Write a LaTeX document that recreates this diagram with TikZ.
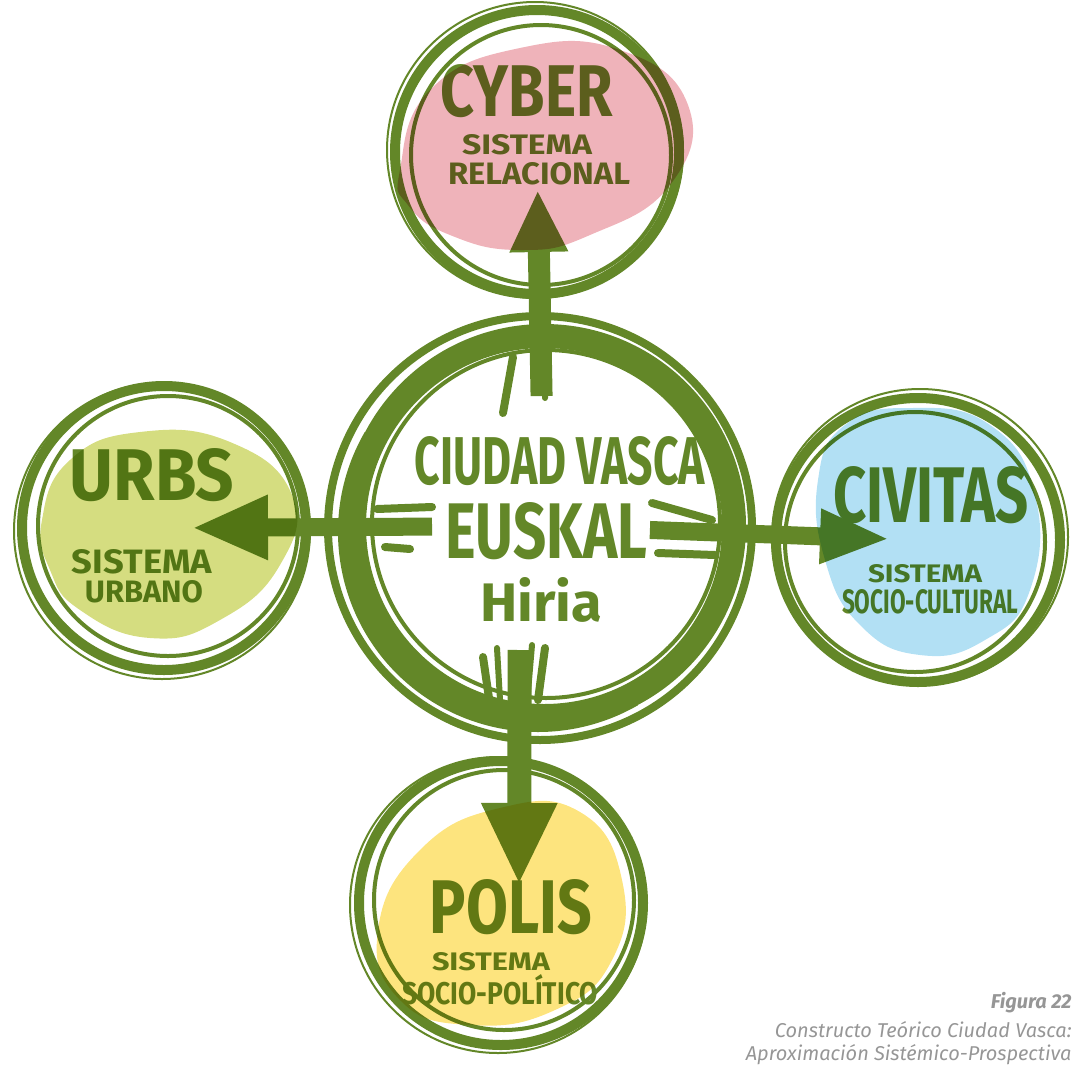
\documentclass[tikz,border=0pt]{standalone}
\usepackage{fontspec}
\setmainfont{Fira Sans}
\usepackage{graphicx}
\usetikzlibrary{arrows.meta}

\definecolor{vgreen}{RGB}{99,135,40}
\definecolor{cyberpink}{RGB}{239,179,186}
\definecolor{urbslime}{RGB}{213,221,128}
\definecolor{civitasblue}{RGB}{178,224,244}
\definecolor{polisyellow}{RGB}{253,228,126}
\definecolor{capgray}{RGB}{150,150,150}

\newcommand{\fitbox}[3]{\resizebox{#1}{#2}{\bfseries #3}}

\tikzset{
  ring/.style={circle, draw=vgreen, line width=5pt, minimum size=#1, inner sep=0pt},
  sketch/.style={draw=vgreen, line width=#1},
  sketchline/.style={draw=vgreen, line width=#1, line cap=round},
  flow/.style 2 args={draw=vgreen, line width=11pt, -{Triangle[length=#1, width=#2]}},
  handtext/.style={text=vgreen, inner sep=0pt},
  captext/.style={text=capgray, inner sep=0pt, anchor=east},
}

\begin{document}
\begin{tikzpicture}[x=0.5pt, y=-0.5pt]
\useasboundingbox (0,0) rectangle (1076,1066);

% rings
\node[ring=190pt, line width=12pt] (ciudad) at (544,526) {};
\node[ring=142pt] (cyber) at (537,152) {};
\node[ring=142pt] (urbs) at (164,528) {};
\node[ring=142pt] (civitas) at (918,540) {};
\node[ring=142pt] (polis) at (501,903) {};

\draw[sketch=4pt] ([shift={(-4,2)}]ciudad.center) circle[radius=106pt];
\draw[sketch=2pt] ([shift={(2,-2)}]ciudad.center) circle[radius=87pt];
\draw[sketch=8pt] ([shift={(-6,6)}]ciudad.center) ++(150:96pt) arc[start angle=150, end angle=300, radius=96pt];
\draw[sketch=2pt] ([shift={(4,3)}]cyber.center) circle[radius=65pt];
\draw[sketch=1pt] ([shift={(-2,-2)}]cyber.center) circle[radius=74pt];
\draw[sketch=2pt] ([shift={(4,-2)}]urbs.center) circle[radius=65pt];
\draw[sketch=1pt] ([shift={(-2,3)}]urbs.center) circle[radius=74pt];
\draw[sketch=2pt] ([shift={(-3,2)}]civitas.center) circle[radius=65pt];
\draw[sketch=1pt] ([shift={(2,-3)}]civitas.center) circle[radius=74pt];
\draw[sketch=2pt] ([shift={(3,-3)}]polis.center) circle[radius=65pt];
\draw[sketch=1pt] ([shift={(-3,2)}]polis.center) circle[radius=74pt];

% arrows
\draw[flow={31pt}{27pt}, shorten <=65pt, shorten >=19pt] (ciudad.center) -- (cyber.center);
\draw[flow={38pt}{30pt}, line width=9pt, shorten <=56pt, shorten >=14pt] (ciudad.center) -- (urbs.center);
\draw[flow={35pt}{25pt}, line width=9pt, shorten <=53pt, shorten >=14pt] (ciudad.center) -- (civitas.center);
\draw[flow={41pt}{35pt}, line width=12pt, shorten <=62pt, shorten >=9pt] ([xshift=-12pt]ciudad.center) -- ([xshift=9pt]polis.center);

% strokes round the arrows
\draw[sketchline=4pt] (513,357) -- (503,413);
\draw[sketchline=3pt] (547,352) -- (545,398);
\draw[sketchline=4pt] (377,509) -- (432,507);
\draw[sketchline=4pt] (385,547) -- (410,549);
\draw[sketchline=4pt] (652,503) -- (712,520);
\draw[sketchline=4pt] (658,553) -- (715,555);
\draw[sketchline=4pt] (483,657) -- (490,705);
\draw[sketchline=3pt] (497,648) -- (500,700);
\draw[sketchline=3pt] (532,645) -- (528,692);
\draw[sketchline=4pt] (545,648) -- (538,700);

% texts
\node[handtext] (cybername) at (527,91) {\fitbox{86pt}{26pt}{CYBER}};
\node[handtext] (cybersub) at (527,145) {\fitbox{65pt}{10pt}{SISTEMA}};
\node[handtext] (cybertype) at (539,174) {\fitbox{91pt}{11pt}{RELACIONAL}};
\node[handtext] (urbsname) at (152,475) {\fitbox{82pt}{26pt}{URBS}};
\node[handtext] (urbssub) at (142,562) {\fitbox{70pt}{12pt}{SISTEMA}};
\node[handtext] (urbstype) at (144,592) {\fitbox{59pt}{11pt}{URBANO}};
\node[handtext] (ciudadname) at (560,461) {\fitbox{145pt}{24pt}{CIUDAD VASCA}};
\node[handtext] (euskalname) at (546,531) {\fitbox{101pt}{28pt}{EUSKAL}};
\node[handtext] (hirianame) at (541,600) {\fitbox{61pt}{22pt}{Hiria}};
\node[handtext] (civitasname) at (931,495) {\fitbox{98pt}{28pt}{CIVITAS}};
\node[handtext] (civitassub) at (925,574) {\fitbox{57pt}{9pt}{SISTEMA}};
\node[handtext] (civitastype) at (930,602) {\fitbox{88pt}{12pt}{SOCIO-CULTURAL}};
\node[handtext] (polisname) at (511,907) {\fitbox{81pt}{27pt}{POLIS}};
\node[handtext] (polissub) at (491,962) {\fitbox{59pt}{9pt}{SISTEMA}};
\node[handtext] (polistype) at (500,990) {\fitbox{98pt}{15pt}{SOCIO-POLÍTICO}};

% coloured patches
\begin{scope}[blend mode=multiply]
\fill[cyberpink] plot[smooth cycle, tension=0.8] coordinates {(400,170) (430,90) (520,48) (620,50) (688,105) (670,185) (590,235) (520,250) (450,235) (408,205)};
\fill[urbslime] plot[smooth cycle, tension=0.8] coordinates {(42,520) (70,460) (140,432) (230,442) (292,495) (280,565) (220,620) (150,638) (80,610) (50,570)};
\fill[civitasblue] plot[smooth cycle, tension=0.8] coordinates {(818,480) (845,425) (910,408) (990,425) (1035,495) (1030,590) (985,640) (920,655) (860,625) (825,560)};
\fill[polisyellow] plot[smooth cycle, tension=0.8] coordinates {(378,930) (420,850) (500,808) (580,812) (622,880) (612,960) (555,1010) (470,1025) (400,1000)};
\end{scope}

% caption
\node[captext, font=\bfseries\itshape\fontsize{10}{12}\selectfont] (figlabel) at (1072,1003) {Figura 22};
\node[captext, font=\itshape\fontsize{10}{12}\selectfont] (figtitle) at (1072,1030) {Constructo Teórico Ciudad Vasca:};
\node[captext, font=\itshape\fontsize{10}{12}\selectfont] (figsub) at (1072,1055) {Aproximación Sistémico-Prospectiva};
\end{tikzpicture}
\end{document}
